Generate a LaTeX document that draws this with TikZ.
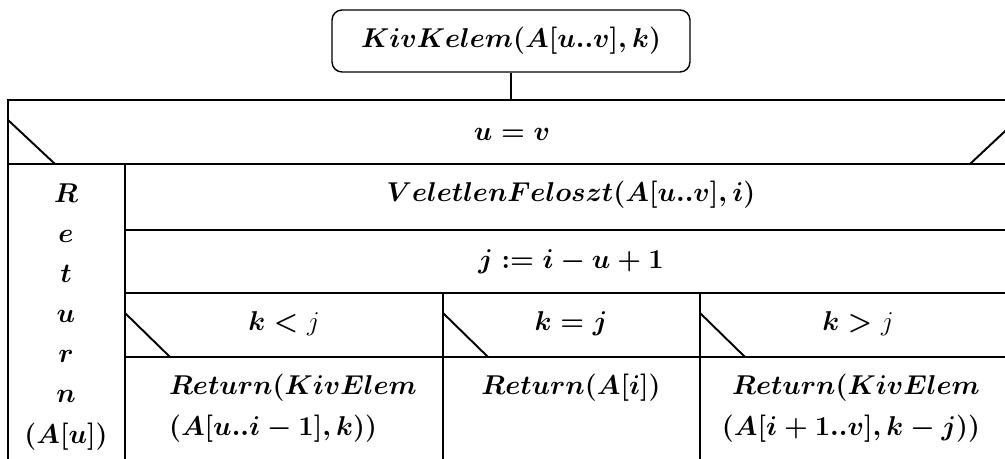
\RequirePackage{fix-cm}
\documentclass[tikz,border=0pt]{standalone}
\usepackage{amsmath}
\usetikzlibrary{positioning}
\tikzset{txt/.style={inner sep=1pt,font=\fontsize{15.5}{18}\selectfont\boldmath},
  head/.style={txt,draw,line width=0.8pt,rounded corners=0.2cm,minimum width=7.16cm,minimum height=1.24cm},
  frame/.style={line width=1.6pt},
  rule/.style={line width=1.1pt}}
\newcommand{\lite}[1]{\text{\unboldmath$#1$}}
\begin{document}
\begin{tikzpicture}[x=0.02cm,y=-0.02cm]
\useasboundingbox (0,0) rectangle (1005,459);
\clip (0,0) rectangle (1005,459);
\node[head] (fn) at (511,41) {$KivKelem(A[u..v],k)$};
\coordinate (tabtop) at (511,100);
\draw[rule] (fn.south) -- (tabtop);
% frame and rows
\draw[frame] (8,470) -- (8,100) -- (1017,100) -- (1017,470);
\draw[rule] (8,164) -- (1017,164);
\foreach \y in {230,293,357}{\draw[rule] (125,\y) -- (1017,\y);}
\draw[rule] (125,164) -- (125,470);
\foreach \x in {443,700}{\draw[rule] (\x,293) -- (\x,470);}
% branch marks
\draw[rule] (8,120) -- (55,164);
\draw[rule] (1017,120) -- (970,164);
\foreach \x in {125,443,700}{\draw[rule] (\x,313) -- (\x+45,357);}
% texts
\node[txt,anchor=base] (cond) at (512,141) {$u=v$};
\node[txt,anchor=base] (part) at (571,202) {$VeletlenFeloszt(A[u..v],i)$};
\node[txt,anchor=base] (asg) at (571,269) {$j:=i-u+1$};
\node[txt,anchor=base] (lt) at (284,331) {$k<\lite{j}$};
\node[txt,anchor=base] (eq) at (571,331) {$k=j$};
\node[txt,anchor=base] (gt) at (858,331) {$k>\lite{j}$};
\foreach \c [count=\i from 0] in {R,e,t,u,r,n,(A[u])}{\node[txt,anchor=base] (ret\i) at (66,203+40*\i) {$\c$};}
\node[txt,anchor=base west] (lo1) at (167,395) {$Return(KivElem$};
\node[txt,anchor=base west] (lo2) at (167,436) {$(A[u..i-1],k))$};
\node[txt,anchor=base] (mid) at (571,395) {$Return(A[i])$};
\node[txt,anchor=base] (hi1) at (856,395) {$Return(KivElem$};
\node[txt,anchor=base] (hi2) at (851,436) {$(A[i+1..v],k-j))$};
\end{tikzpicture}
\end{document}
